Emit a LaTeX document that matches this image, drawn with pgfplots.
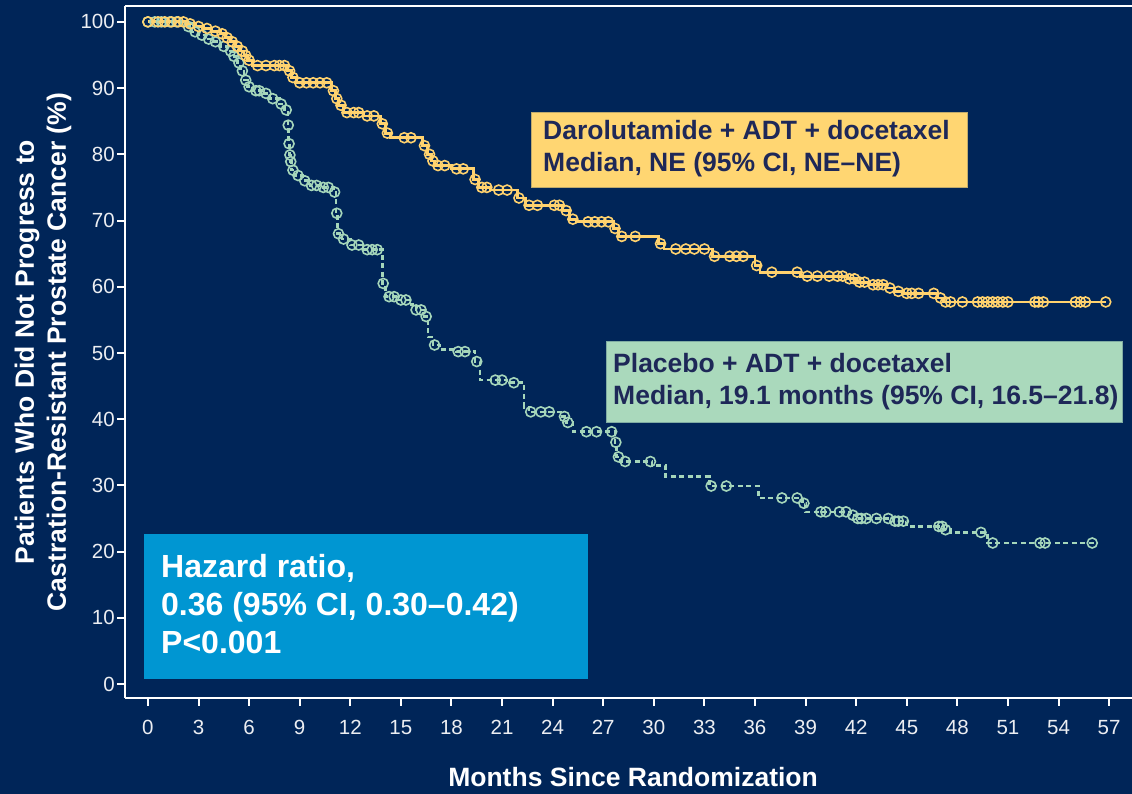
\documentclass[border=0pt]{standalone}
\usepackage{pgfplots}
\pgfplotsset{compat=1.18}
\usepackage{fontspec}
\setmainfont{Liberation Sans}
\definecolor{navy}{RGB}{0,37,88}
\definecolor{boxtext}{RGB}{30,40,88}
\definecolor{yel}{RGB}{255,210,110}
\definecolor{yelbox}{RGB}{255,214,114}
\definecolor{grn}{RGB}{165,214,186}
\definecolor{grnbox}{RGB}{170,217,188}
\definecolor{bluebox}{RGB}{0,150,210}
\definecolor{tickwhite}{RGB}{236,238,242}
\begin{document}
\begin{tikzpicture}
\fill[navy] (0,0) rectangle (1132pt,794pt);
\begin{axis}[
  at={(125pt,96pt)}, anchor=south west,
  scale only axis, width=1007pt, height=692pt,
  xmin=-1.36, xmax=58.36, ymin=-2.11, ymax=102.4,
  axis x line*=bottom, axis y line*=left,
  axis line style={draw=white, line width=2pt},
  xtick={0,3,...,57}, ytick={0,10,...,100},
  tick align=outside, major tick length=8pt,
  tick style={draw=white, line width=2pt},
  /pgf/number format/assume math mode=true,
  ticklabel style={font=\fontsize{20.5}{24}\selectfont, text=tickwhite, inner sep=2pt},
  xticklabel style={yshift=-12pt},
  xlabel={Months Since Randomization},
  xlabel style={at={(axis description cs:0.5045,0)}, anchor=base, yshift=-89pt,
    font=\bfseries\fontsize{26.5}{32}\selectfont, text=white},
  ylabel={Patients Who Did Not Progress to\\Castration-Resistant Prostate Cancer (\%)},
  ylabel style={at={(axis description cs:-0.0815,0.5)}, anchor=center, align=center,
    font=\bfseries\fontsize{26.5}{32}\selectfont, text=white},
]
% top frame line
\draw[white, line width=2.5pt] (rel axis cs:0,1) -- (rel axis cs:1,1);

% Placebo + ADT + docetaxel
\addplot[const plot, grn, line width=2.6pt, dash pattern=on 5pt off 3.5pt] table {
x y
0 100
2.2 99.3
2.6 98.5
3.0 98.0
3.4 97.4
3.8 97.0
4.3 96.3
4.7 95.6
5.0 94.8
5.3 93.8
5.5 92.6
5.7 91.2
5.9 90.2
6.2 89.6
6.8 89.2
7.2 88.4
7.8 87.6
8.1 86.7
8.3 84.4
8.35 81.6
8.4 79.9
8.45 78.9
8.5 77.6
8.7 76.8
9.2 76.0
9.6 75.3
10.2 75.0
11.0 74.3
11.15 71.1
11.25 68.0
11.5 67.2
12.0 66.3
12.8 65.6
13.9 60.5
14.1 58.5
14.8 58.0
15.6 57.3
15.9 56.5
16.4 55.5
16.6 52.4
16.9 51.2
17.3 50.5
18.3 50.2
19.4 48.7
19.7 45.9
21.3 45.5
22.3 41.8
22.6 41.1
24.6 40.4
24.8 39.5
25.2 38.1
27.7 36.5
27.8 34.3
28.0 33.6
29.9 33.0
30.7 31.3
33.3 29.9
36.2 28.1
38.8 27.3
39.0 26.0
41.7 25.5
42.0 25.0
44.2 24.6
45.0 23.8
47.2 23.3
47.6 22.9
49.8 21.3
56.1 21.3
};
\addplot[only marks, mark=o, mark size=5pt, mark options={grn, solid, line width=1.6pt}] coordinates {
(0,100)(0.4,100)(0.8,100)(1.3,100)(1.7,100)
(2.4,99.3)(2.8,98.5)(3.2,98.0)(3.6,97.4)(4.0,97.0)(4.5,96.3)(4.9,95.6)(5.1,94.8)(5.4,93.8)(5.6,92.6)(5.8,91.2)(6.0,90.2)(6.4,89.6)(6.6,89.6)(7.0,89.2)(7.4,88.4)(7.9,87.6)(8.2,86.7)
(8.32,84.4)(8.37,81.6)(8.42,79.9)(8.47,78.9)(8.6,77.6)(8.9,76.8)(9.3,76.0)(9.7,75.3)(10.0,75.3)(10.4,75.0)(10.7,75.0)(11.07,74.3)(11.2,71.1)(11.3,68.0)(11.6,67.2)(12.1,66.3)(12.5,66.3)(13.0,65.6)(13.3,65.6)(13.6,65.6)
(13.95,60.5)(14.3,58.5)(14.6,58.5)(15.0,58.0)(15.3,58.0)(15.9,56.5)(16.2,56.5)(16.5,55.5)
(17.0,51.2)(18.4,50.2)(18.8,50.2)(19.5,48.7)
(20.6,45.9)(21.0,45.9)(21.7,45.5)
(22.7,41.1)(23.3,41.1)(23.8,41.1)(24.7,40.4)(24.9,39.5)
(26.0,38.1)(26.6,38.1)(27.5,38.1)(27.75,36.5)(27.9,34.3)(28.3,33.6)(29.8,33.6)
(33.4,29.9)(34.3,29.9)
(37.6,28.1)(38.5,28.1)(38.9,27.3)
(39.9,26.0)(40.2,26.0)(41.0,26.0)(41.4,26.0)
(41.8,25.5)(42.1,25.0)(42.3,25.0)(42.6,25.0)(43.2,25.0)(43.9,25.0)(44.3,24.6)(44.5,24.6)(44.8,24.6)
(46.9,23.8)(47.1,23.8)(47.3,23.3)
(49.4,22.9)
(50.1,21.3)(52.9,21.3)(53.2,21.3)(56.0,21.3)
};

% Darolutamide + ADT + docetaxel
\addplot[const plot, yel, line width=2.8pt] table {
x y
0 100
2.3 99.7
2.8 99.3
3.3 99.0
3.8 98.6
4.3 98.2
4.6 97.6
4.9 97.0
5.2 96.3
5.5 95.6
5.7 94.9
5.9 94.2
6.2 93.4
8.3 92.6
8.5 91.6
8.8 90.8
10.9 89.6
11.1 88.4
11.3 87.4
11.6 86.3
12.8 85.8
13.8 84.6
14.1 83.2
14.4 82.5
16.3 81.3
16.6 80.0
16.8 79.0
17.0 78.3
18.0 77.8
19.3 76.2
19.6 75.0
20.3 74.6
21.9 73.4
22.4 72.3
24.6 71.5
25.0 70.2
25.4 69.8
27.6 68.8
27.9 67.6
30.3 66.5
30.6 65.7
33.5 64.6
36.0 63.2
36.3 62.2
38.7 61.6
41.5 61.2
42.0 60.7
42.8 60.3
43.8 59.8
44.3 59.3
44.8 59.0
46.8 58.3
47.2 57.7
56.8 57.7
};
\addplot[only marks, mark=o, mark size=5pt, mark options={yel, solid, line width=1.6pt}] coordinates {
(0,100)(0.6,100)(1.0,100)(1.4,100)(1.8,100)(2.1,100)
(2.5,99.7)(3.0,99.3)(3.5,99.0)(4.0,98.6)(4.4,98.2)(4.7,97.6)(5.0,97.0)(5.3,96.3)(5.6,95.6)(5.8,94.9)(6.0,94.2)
(6.5,93.4)(7.0,93.4)(7.5,93.4)(7.8,93.4)(8.1,93.4)
(8.4,92.6)(8.6,91.6)
(9.0,90.8)(9.4,90.8)(9.8,90.8)(10.2,90.8)(10.6,90.8)
(11.0,89.6)(11.2,88.4)(11.45,87.4)
(11.8,86.3)(12.2,86.3)(12.5,86.3)
(13.0,85.8)(13.4,85.8)
(13.9,84.6)(14.2,83.2)
(15.2,82.5)(15.6,82.5)
(16.4,81.3)(16.7,80.0)(16.9,79.0)
(17.2,78.3)(17.6,78.3)
(18.3,77.8)(18.7,77.8)
(19.4,76.2)(19.8,75.0)(20.1,75.0)
(20.8,74.6)(21.3,74.6)
(22.0,73.4)(22.6,72.3)(23.1,72.3)(24.1,72.3)(24.4,72.3)
(24.8,71.5)(25.2,70.2)
(26.1,69.8)(26.5,69.8)(26.9,69.8)(27.3,69.8)
(27.7,68.8)(28.1,67.6)(28.9,67.6)
(30.4,66.5)
(31.3,65.7)(31.9,65.7)(32.4,65.7)(33.0,65.7)
(33.6,64.6)(34.5,64.6)(34.9,64.6)(35.3,64.6)
(36.1,63.2)
(37.0,62.2)(38.5,62.2)
(39.1,61.6)(39.7,61.6)(40.4,61.6)(40.9,61.6)(41.2,61.6)
(41.6,61.2)(41.9,61.2)
(42.2,60.7)(42.5,60.7)
(43.0,60.3)(43.3,60.3)(43.6,60.3)
(44.0,59.8)(44.5,59.3)(45.0,59.0)(45.3,59.0)(45.7,59.0)(46.6,59.0)(47.0,58.3)
(47.3,57.7)(47.6,57.7)(48.3,57.7)(49.2,57.7)(49.5,57.7)(49.8,57.7)(50.1,57.7)(50.4,57.7)(50.7,57.7)(51.0,57.7)
(52.6,57.7)(52.8,57.7)(53.1,57.7)(55.0,57.7)(55.3,57.7)(55.6,57.7)(56.8,57.7)
};
\end{axis}

% annotation boxes
\filldraw[fill=yelbox, draw=yelbox!75!navy, line width=0.8pt] (531pt,607pt) rectangle (967pt,682pt);
\node[anchor=west, align=left, text=boxtext, inner sep=0pt,
  font=\bfseries\fontsize{26.5}{32}\selectfont] at (543pt,645pt)
  {Darolutamide + ADT + docetaxel\\Median, NE (95\% CI, NE--NE)};

\filldraw[fill=grnbox, draw=grnbox!75!navy, line width=0.8pt] (606pt,372pt) rectangle (1122pt,453pt);
\node[anchor=west, align=left, text=boxtext, inner sep=0pt,
  font=\bfseries\fontsize{26.5}{32}\selectfont] at (613pt,412pt)
  {Placebo + ADT + docetaxel\\Median, 19.1 months (95\% CI, 16.5--21.8)};

\fill[bluebox] (144pt,115pt) rectangle (588pt,260pt);
\node[anchor=west, align=left, text=white, inner sep=0pt,
  font=\bfseries\fontsize{32}{38}\selectfont] at (161pt,190pt)
  {Hazard ratio,\\0.36 (95\% CI, 0.30--0.42)\\P<0.001};

\pgfresetboundingbox
\path (0,0) rectangle (1132pt,794pt);
\end{tikzpicture}
\end{document}
